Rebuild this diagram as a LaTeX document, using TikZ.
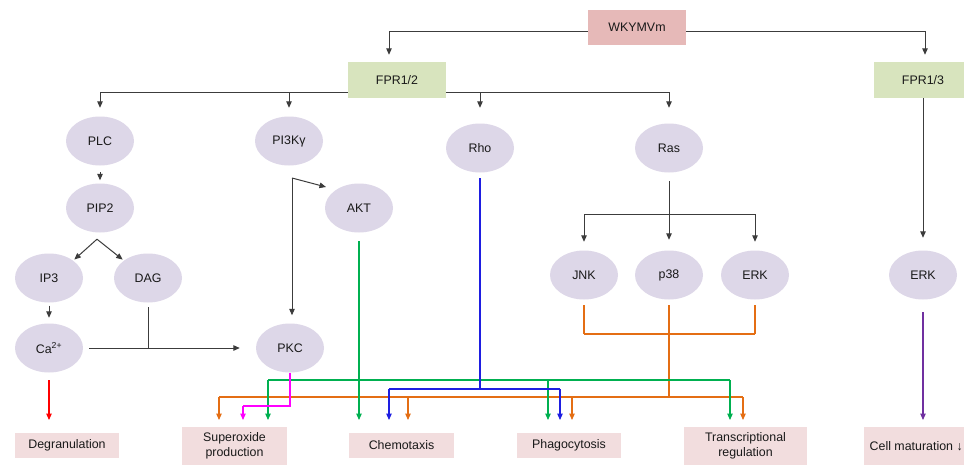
\documentclass[tikz,border=0pt]{standalone}
\usepackage{fontspec}
\setmainfont{Liberation Sans}
\usetikzlibrary{arrows.meta,calc,shapes.geometric}
\definecolor{ellfill}{RGB}{221,215,232}
\definecolor{wfill}{RGB}{230,185,184}
\definecolor{ffill}{RGB}{216,228,190}
\definecolor{ofill}{RGB}{242,221,222}
\definecolor{linegray}{RGB}{60,60,60}
\definecolor{cOrange}{RGB}{228,110,20}
\definecolor{cGreen}{RGB}{0,176,80}
\definecolor{cBlue}{RGB}{30,30,225}
\definecolor{cMag}{RGB}{255,0,255}
\definecolor{cRed}{RGB}{255,0,0}
\definecolor{cPurple}{RGB}{112,48,160}
\definecolor{txt}{RGB}{25,25,25}
\begin{document}
\begin{tikzpicture}[x=1pt,y=-1pt,
  every node/.style={font=\fontsize{12.4}{15}\selectfont, text=txt},
  ell/.style={ellipse, fill=ellfill, minimum width=68pt, minimum height=49pt, inner sep=0pt},
  srcbox/.style={rectangle, fill=wfill, minimum width=98pt, minimum height=35pt, inner sep=0pt},
  recbox/.style={rectangle, fill=ffill, minimum width=98pt, minimum height=36pt, inner sep=0pt},
  outbox/.style={rectangle, fill=ofill, align=center, inner sep=0pt},
  conn/.style={draw=linegray, line width=1pt},
  arr/.style={conn, -{Triangle[length=6.5pt,width=5.5pt]}},
  carr/.style={draw=#1, line width=1.1pt, -{Triangle[length=6.5pt,width=5.5pt]}},
  cline/.style={draw=#1, line width=1.1pt}
]
\clip (0,0) rectangle (964,464);
\fill[white] (0,0) rectangle (964,464);

% top nodes
\node[srcbox] (w) at (637,27.5) {WKYMVm};
\node[recbox] (f12) at (397,80) {FPR1/2};
\node[recbox] (f13) at (923,80) {FPR1/3};

% ellipses
\node[ell] (plc) at (100,141) {PLC};
\node[ell] (pi3k) at (289,141) {PI3Kγ};
\node[ell] (rho) at (480,148) {Rho};
\node[ell] (ras) at (669,148) {Ras};
\node[ell] (pip2) at (100,208) {PIP2};
\node[ell] (akt) at (359,208) {AKT};
\node[ell] (ip3) at (49,278) {IP3};
\node[ell] (dag) at (148,278) {DAG};
\node[ell] (ca) at (49,348) {Ca\textsuperscript{2+}};
\node[ell] (pkc) at (290,348) {PKC};
\node[ell] (jnk) at (584,275) {JNK};
\node[ell] (p38) at (669,275) {p38};
\node[ell] (erk) at (755,275) {ERK};
\node[ell] (erk2) at (923,275) {ERK};

% outputs
\node[outbox, minimum width=104pt, minimum height=25pt] (deg) at (67,445.5) {Degranulation};
\node[outbox, minimum width=105pt, minimum height=38pt] (sup) at (234.5,446) {Superoxide\\production};
\node[outbox, minimum width=105pt, minimum height=25pt] (chem) at (401.5,445.5) {Chemotaxis};
\node[outbox, minimum width=104pt, minimum height=25pt] (phag) at (569,445.5) {Phagocytosis};
\node[outbox, minimum width=123pt, minimum height=38pt] (trans) at (745.5,446) {Transcriptional\\regulation};
\node[outbox, minimum width=122pt, minimum height=38pt, anchor=west] (cell) at (864,446) {\hspace*{-18pt}Cell maturation ↓};

% coordinates
\coordinate (wl) at ($(w.west)+(0,3.5)$);
\coordinate (wr) at ($(w.east)+(0,3.5)$);
\coordinate (f12in) at ($(f12.north)+(-8,0)$);
\coordinate (f13in) at ($(f13.north)+(2,0)$);
\coordinate (bus) at ($(f12.center)+(0,12)$);
\coordinate (sp) at ($(pip2.south)+(-3,6.5)$);
\coordinate (j1) at (292,178);
\coordinate (aktin) at (326,187);
\coordinate (rb) at (669,214);
\coordinate (tips) at (0,420);
\coordinate (mag) at (243,406);
\coordinate (g1) at (268,380);
\coordinate (g2) at (548,380);
\coordinate (g3) at (730,380);
\coordinate (b1) at (389,389);
\coordinate (b2) at (560,389);
\coordinate (ob) at (0,334);
\coordinate (o1) at (219,397);
\coordinate (o2) at (408,397);
\coordinate (o3) at (572,397);
\coordinate (o4) at (743,397);

% top connectors
\draw[arr, shorten >=7pt] (wl) -| (f12in);
\draw[arr, shorten >=7pt] (wr) -| (f13in);
\draw[conn] (bus -| plc) -- (bus -| f12.west);
\draw[conn] (bus -| f12.east) -- (bus -| ras);
\draw[arr, shorten >=8.5pt] (bus -| plc) -- (plc.north);
\draw[arr, shorten >=8.5pt] (bus -| pi3k) -- (pi3k.north);
\draw[arr, shorten >=15.5pt] (bus -| rho) -- (rho.north);
\draw[arr, shorten >=15.5pt] (bus -| ras) -- (ras.north);

% PLC branch
\draw[arr, shorten <=6.5pt, shorten >=3pt] (plc.south) -- (pip2.north);
\draw[arr, shorten >=1.5pt] (sp) -- (ip3.north east);
\draw[arr, shorten >=1.5pt] (sp) -- (dag.north west);
\draw[arr, shorten <=3pt, shorten >=5.5pt] (ip3.south) -- (ca.north);
\draw[conn, shorten <=4.5pt] (dag.south) -- (dag.south |- ca);
\draw[arr, shorten <=6pt, shorten >=16pt] (ca.east) -- (pkc.west);

% PI3K branch
\draw[arr] (j1) -- (aktin);
\draw[arr, shorten >=8pt] (j1) -- (j1 |- pkc.north);

% Ras branch
\draw[arr, shorten <=8.5pt, shorten >=10.5pt] (ras.south) -- (p38.north);
\draw[conn] (rb -| jnk) -- (rb -| erk);
\draw[arr, shorten >=8.5pt] (rb -| jnk) -- (jnk.north);
\draw[arr, shorten >=8.5pt] (rb -| erk) -- (erk.north);

% FPR1/3 branch
\draw[arr, shorten >=12.5pt] (f13.south) -- (erk2.north);

% coloured effector lines
\draw[carr=cRed, shorten <=7.5pt] (ca.south) -- (ca.south |- tips);
\draw[carr=cPurple, shorten <=12.5pt] (erk2.south) -- (erk2.south |- tips);

% orange (MAPK)
\draw[cline=cOrange, shorten <=5.5pt] (jnk.south) -- (jnk.south |- ob);
\draw[cline=cOrange, shorten <=5.5pt] (erk.south) -- (erk.south |- ob);
\draw[cline=cOrange] (jnk.south |- ob) -- (erk.south |- ob);
\draw[cline=cOrange, shorten <=5.5pt] (p38.south) -- (p38.south |- o1);
\draw[cline=cOrange] (o1) -- (o4);
\draw[carr=cOrange] (o1) -- (o1 |- tips);
\draw[carr=cOrange] (o2) -- (o2 |- tips);
\draw[carr=cOrange] (o3) -- (o3 |- tips);
\draw[carr=cOrange] (o4) -- (o4 |- tips);

% green (AKT)
\draw[carr=cGreen, shorten <=8.5pt] (akt.south) -- (akt.south |- tips);
\draw[cline=cGreen] (g1) -- (g3);
\draw[carr=cGreen] (g1) -- (g1 |- tips);
\draw[carr=cGreen] (g2) -- (g2 |- tips);
\draw[carr=cGreen] (g3) -- (g3 |- tips);

% blue (Rho)
\draw[cline=cBlue, shorten <=5.5pt] (rho.south) -- (rho.south |- b1);
\draw[cline=cBlue] (b1) -- (b2);
\draw[carr=cBlue] (b1) -- (b1 |- tips);
\draw[carr=cBlue] (b2) -- (b2 |- tips);

% magenta (PKC)
\draw[cline=cMag] (pkc.south) |- (mag);
\draw[carr=cMag] (mag) -- (mag |- tips);
\end{tikzpicture}
\end{document}
